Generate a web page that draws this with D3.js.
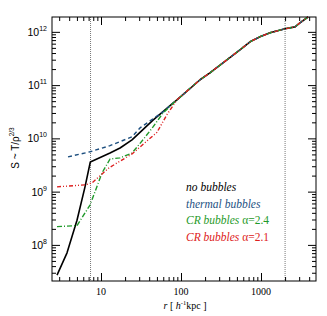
<!DOCTYPE html>
<html>
<head>
<meta charset="utf-8">
<script src="https://cdn.jsdelivr.net/npm/d3@7"></script>
<style>
  body { margin: 0; background: #fff; }
  svg { display: block; }
</style>
</head>
<body>
<div id="chart"></div>
<script>
// radius in h^-1 kpc, entropy S ~ T / rho^(2/3)
var outerR = [89, 173, 230, 546, 729, 972, 1296, 1995, 2661, 3073, 3868];
var outerS = [5.3e10, 1.26e11, 1.7e11, 4.6e11, 6.5e11, 8.1e11, 9.6e11, 1.14e12, 1.24e12, 1.48e12, 1.9e12];

var noBubR = [2.82, 3.76, 5.01, 6.31, 7.35, 12.96, 17.3, 24.4, 44.7, 79.4];
var noBubS = [2.7e7, 7.1e7, 2.9e8, 1.23e9, 3.6e9, 5.3e9, 6.6e9, 9.4e9, 2.2e10, 4.6e10];

var thermR = [3.87, 7.29, 12.96, 24.4, 30.7, 59.6];
var thermS = [4.5e9, 5.6e9, 7.3e9, 1.07e10, 1.57e10, 3.15e10];

var cr24R = [2.82, 5.01, 7.29, 10.3, 12.96, 17.3, 24.4, 33.5, 44.7, 59.6];
var cr24S = [2.2e8, 2.3e8, 5.6e8, 2.25e9, 4.1e9, 4.3e9, 5.3e9, 9.4e9, 1.64e10, 3.0e10];

var cr21R = [2.82, 6.31, 7.72, 12.6, 24.4, 50.1, 66.8];
var cr21S = [1.23e9, 1.34e9, 1.46e9, 2.8e9, 5.1e9, 1.3e10, 2.8e10];

var vLines = [7.4, 2000];
var xTicks = [10, 100, 1000];
var yTicks = [1e8, 1e9, 1e10, 1e11, 1e12];

var series = [
  { name: "no bubbles", r: noBubR, s: noBubS, color: "#000000", dash: null, width: 1.6 },
  { name: "thermal bubbles", r: thermR, s: thermS, color: "#1d4f7f", dash: "4,3", width: 1.4 },
  { name: "CR bubbles", alpha: "α=2.4", r: cr24R, s: cr24S, color: "#1f9a2a", dash: "5,2,1,2", width: 1.4 },
  { name: "CR bubbles", alpha: "α=2.1", r: cr21R, s: cr21S, color: "#dd2020", dash: "4,2,1,2,1,2", width: 1.4 }
];

var margin = { top: 17, right: 11, bottom: 35, left: 52 };
var width = 327 - margin.left - margin.right,
    height = 316 - margin.top - margin.bottom;

var svg = d3.select("#chart").append("svg")
    .attr("width", 327)
    .attr("height", 316)
    .append("g")
    .attr("transform", "translate(" + margin.left + "," + margin.top + ")");

var x = d3.scaleLog().domain([2.44, 4870]).range([0, width]);
var y = d3.scaleLog().domain([2.1e7, 1.9e12]).range([height, 0]);

// minor tick values
function minors(scale, lo, hi) {
  var out = [];
  for (var e = lo; e <= hi; e++) {
    for (var k = 1; k <= 9; k++) {
      var v = k * Math.pow(10, e);
      var d = scale.domain();
      if (v >= d[0] && v <= d[1]) out.push(v);
    }
  }
  return out;
}
var xMinor = minors(x, 0, 3).filter(function(v) { return xTicks.indexOf(v) < 0; });
var yMinor = minors(y, 7, 12).filter(function(v) { return yTicks.indexOf(v) < 0; });

// dotted vertical lines
svg.selectAll(".vline").data(vLines).enter().append("line")
    .attr("x1", function(d) { return x(d); })
    .attr("x2", function(d) { return x(d); })
    .attr("y1", 0).attr("y2", height)
    .attr("stroke", "#777")
    .attr("stroke-width", 1)
    .attr("stroke-dasharray", "1,1");

// curves
var line = d3.line()
    .x(function(d) { return x(d[0]); })
    .y(function(d) { return y(d[1]); });

series.forEach(function(sr) {
  var pts = sr.r.map(function(r, i) { return [r, sr.s[i]]; });
  outerR.forEach(function(r, i) { pts.push([r, outerS[i]]); });
  svg.append("path")
      .datum(pts)
      .attr("fill", "none")
      .attr("stroke", sr.color)
      .attr("stroke-width", sr.width)
      .attr("stroke-dasharray", sr.dash)
      .attr("stroke-linejoin", "round")
      .attr("d", line);
});

// frame
svg.append("rect")
    .attr("width", width).attr("height", height)
    .attr("fill", "none").attr("stroke", "#000").attr("stroke-width", 1);

// axes with inward ticks
var axBottom = svg.append("g").attr("transform", "translate(0," + height + ")");
axBottom.call(d3.axisTop(x).tickValues(xTicks).tickSize(8).tickFormat(""));
axBottom.append("g").call(d3.axisTop(x).tickValues(xMinor).tickSize(4).tickFormat(""));
var axTop = svg.append("g");
axTop.call(d3.axisBottom(x).tickValues(xTicks).tickSize(8).tickFormat(""));
axTop.append("g").call(d3.axisBottom(x).tickValues(xMinor).tickSize(4).tickFormat(""));
var axLeft = svg.append("g");
axLeft.call(d3.axisRight(y).tickValues(yTicks).tickSize(8).tickFormat(""));
axLeft.append("g").call(d3.axisRight(y).tickValues(yMinor).tickSize(4).tickFormat(""));
var axRight = svg.append("g").attr("transform", "translate(" + width + ",0)");
axRight.call(d3.axisLeft(y).tickValues(yTicks).tickSize(8).tickFormat(""));
axRight.append("g").call(d3.axisLeft(y).tickValues(yMinor).tickSize(4).tickFormat(""));
svg.selectAll(".domain").remove();
svg.selectAll(".tick line").attr("stroke", "#000").attr("stroke-width", 1);

// x tick labels
svg.selectAll(".xlab").data(xTicks).enter().append("text")
    .attr("x", function(d) { return x(d); })
    .attr("y", height + 14)
    .attr("text-anchor", "middle")
    .style("font-family", "'Liberation Serif', serif")
    .style("font-size", "10px")
    .text(function(d) { return d; });

// y tick labels 10^n
var ylab = svg.selectAll(".ylab").data(yTicks).enter().append("text")
    .attr("x", -5)
    .attr("y", function(d) { return y(d) + 4; })
    .attr("text-anchor", "end")
    .style("font-family", "'Liberation Sans', sans-serif")
    .style("font-size", "10.5px");
ylab.append("tspan").text("10");
ylab.append("tspan")
    .attr("dy", -5)
    .style("font-size", "7px")
    .text(function(d) { return Math.round(Math.log10(d)); });

// axis titles
var xt = svg.append("text")
    .attr("x", 133)
    .attr("y", height + 28)
    .attr("text-anchor", "middle")
    .style("font-family", "'Liberation Serif', serif")
    .style("font-size", "10px");
xt.append("tspan").style("font-style", "italic").text("r");
xt.append("tspan").text(" [ ");
xt.append("tspan").style("font-style", "italic").text("h");
xt.append("tspan").attr("dy", -4).style("font-size", "6.5px").text("-1");
xt.append("tspan").attr("dy", 4).text("kpc ]");

var yt = svg.append("text")
    .attr("transform", "translate(" + (-33) + "," + 131 + ") rotate(-90)")
    .attr("text-anchor", "middle")
    .style("font-family", "'Liberation Sans', sans-serif")
    .style("font-size", "10px");
yt.append("tspan").text("S ~ T/ρ");
yt.append("tspan").attr("dy", -5).style("font-size", "6.5px").text("2/3");

// legend
var leg = svg.selectAll(".leg").data(series).enter().append("text")
    .attr("x", 134)
    .attr("y", function(d, i) { return 174 + i * 16.5; })
    .attr("fill", function(d) { return d.color; })
    .style("font-family", "'Liberation Serif', serif")
    .style("font-size", "11.5px");
leg.append("tspan").style("font-style", "italic").text(function(d) { return d.name; });
leg.filter(function(d) { return d.alpha; }).append("tspan")
    .text(function(d) { return " " + d.alpha; });
</script>
</body>
</html>
